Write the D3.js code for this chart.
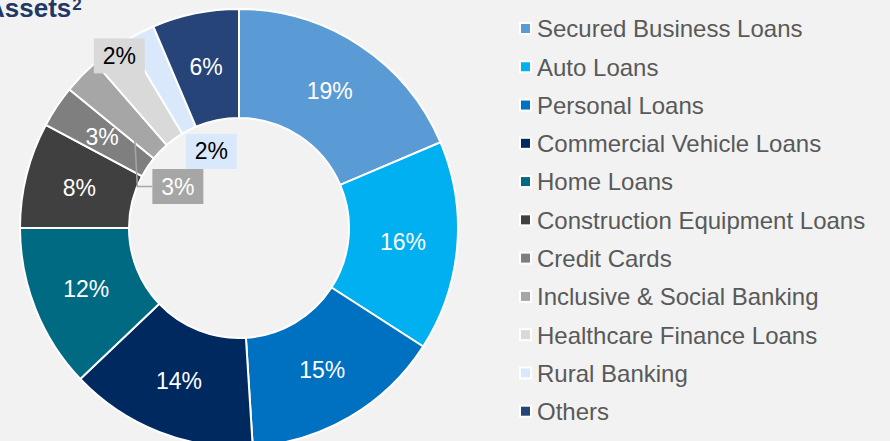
<!DOCTYPE html>
<html>
<head>
<meta charset="utf-8">
<script src="https://cdn.jsdelivr.net/npm/d3@7"></script>
<style>
  body { margin: 0; background: #f2f2f2; }
  svg { display: block; font-family: "Liberation Sans", Arial, sans-serif; }
</style>
</head>
<body>
<svg id="chart" width="890" height="441"></svg>
<script>
const categories = [
  'Secured Business Loans', 'Auto Loans', 'Personal Loans', 'Commercial Vehicle Loans',
  'Home Loans', 'Construction Equipment Loans', 'Credit Cards', 'Inclusive & Social Banking',
  'Healthcare Finance Loans', 'Rural Banking', 'Others',
];
const shares = [18.6, 15.5, 14.9, 13.9, 12.1, 7.8, 3.1, 2.7, 2.8, 2.2, 6.4];
const shareLabels = ['19%', '16%', '15%', '14%', '12%', '8%', '3%', '3%', '2%', '2%', '6%'];
const colors = [
  '#5b9bd5', '#00b0f0', '#0070c0', '#002960', '#006a82', '#404040',
  '#7f7f7f', '#a6a6a6', '#d9d9d9', '#dae8fc', '#264478',
];

// labels that Excel pushed out of the ring: offset from the slice centroid
const callouts = {
  7: { dx: 57, dy: 73, box: '#a6a6a6', ink: '#ffffff', leader: true },
  8: { dx: -23, dy: -39, box: '#d9d9d9', ink: '#000000' },
  9: { dx: 47, dy: 70, box: '#dae8fc', ink: '#000000' },
};

const svg = d3.select('#chart');
const cx = 239, cy = 228, inner = 110, outer = 219;
const data = categories.map((name, i) => ({ name, value: shares[i], label: shareLabels[i], color: colors[i], i }));

const pie = d3.pie().sort(null).value((d) => d.value);
const arc = d3.arc().innerRadius(inner).outerRadius(outer);
const leaderArc = d3.arc().innerRadius(110).outerRadius(182);
const arcs = pie(data);

const g = svg.append('g').attr('transform', `translate(${cx},${cy})`);
g.selectAll('path.slice').data(arcs).join('path')
  .attr('class', 'slice')
  .attr('d', arc)
  .attr('fill', (d) => d.data.color)
  .attr('stroke', '#ffffff')
  .attr('stroke-width', 2);

const labelLayer = g.append('g').attr('font-size', 23);
for (const d of arcs) {
  const [x, y] = arc.centroid(d);
  const c = callouts[d.data.i];
  if (!c) {
    labelLayer.append('text')
      .attr('x', x).attr('y', y).attr('dy', '0.35em')
      .attr('text-anchor', 'middle')
      .attr('fill', '#ffffff')
      .text(d.data.label);
    continue;
  }
  const bx = x + c.dx, by = y + c.dy, w = 51, h = 35;
  if (c.leader) {
    const [lx, ly] = leaderArc.centroid(d);
    labelLayer.append('polyline')
      .attr('points', [[lx, ly], [bx - w / 2 - 15, by], [bx - w / 2, by]].map((p) => p.join(',')).join(' '))
      .attr('fill', 'none')
      .attr('stroke', '#a6a6a6')
      .attr('stroke-width', 1.5);
  }
  labelLayer.append('rect')
    .attr('x', bx - w / 2).attr('y', by - h / 2)
    .attr('width', w).attr('height', h)
    .attr('fill', c.box);
  labelLayer.append('text')
    .attr('x', bx).attr('y', by).attr('dy', '0.35em')
    .attr('text-anchor', 'middle')
    .attr('fill', c.ink)
    .text(d.data.label);
}

// title, mostly cut off at the left edge
const title = svg.append('text')
  .attr('x', -14).attr('y', 16.5)
  .attr('font-size', 26).attr('font-weight', 'bold')
  .attr('fill', '#1f3864');
title.append('tspan').text('Assets');
title.append('tspan').attr('font-size', 17).attr('dx', 1).attr('dy', -7).text('2');

// legend
const rowY = d3.scalePoint().domain(categories).range([29, 411.7]);
const legend = svg.append('g').selectAll('g').data(data).join('g')
  .attr('transform', (d) => `translate(519,${rowY(d.name)})`);
legend.append('rect')
  .attr('x', 1).attr('y', -6).attr('width', 11).attr('height', 11)
  .attr('fill', (d) => d.color)
  .attr('stroke', '#ffffff')
  .attr('stroke-width', 2);
legend.append('text')
  .attr('x', 18).attr('dy', '0.35em')
  .attr('font-size', 24)
  .attr('fill', '#595959')
  .text((d) => d.name);
</script>
</body>
</html>
